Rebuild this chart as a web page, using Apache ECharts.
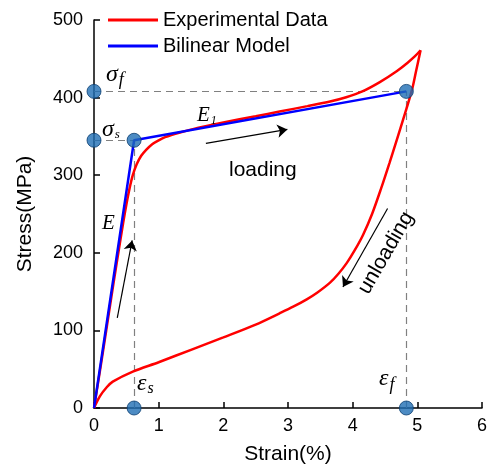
<!DOCTYPE html>
<html>
<head>
<meta charset="utf-8">
<script src="https://cdn.jsdelivr.net/npm/echarts@6/dist/echarts.min.js"></script>
<style>
  html, body { margin: 0; padding: 0; background: #fff; }
  #chart { width: 492px; height: 471px; }
</style>
</head>
<body>
<div id="chart"></div>
<script>
// experimental curve (strain %, stress MPa), loading branch
const loadingCurve = [
  [0, 0], [0.1, 52], [0.2, 106], [0.3, 160], [0.38, 202], [0.45, 238], [0.5, 262],
  [0.55, 283], [0.6, 300], [0.66, 314], [0.73, 325], [0.81, 333], [0.9, 340],
  [1.0, 345], [1.1, 349], [1.33, 355], [1.6, 361], [2.0, 368], [2.5, 376],
  [2.87, 382], [3.3, 389], [3.65, 395], [3.9, 400.5], [4.15, 408], [4.42, 420],
  [4.68, 434], [4.85, 445], [4.96, 453], [5.05, 461]
];
// unloading branch
const unloadingCurve = [
  [5.05, 461], [4.98, 434], [4.92, 411], [4.8, 377], [4.68, 345], [4.57, 316],
  [4.44, 283], [4.3, 250], [4.16, 223], [4.03, 203], [3.91, 187], [3.78, 173],
  [3.65, 161.5], [3.45, 148.5], [3.29, 140], [3.08, 130.5], [2.87, 122], [2.5, 107.5],
  [2.0, 91], [1.5, 75], [1.0, 59], [0.6, 47], [0.29, 34], [0.2, 27], [0.09, 15], [0, 0]
];
// bilinear model
const bilinearModel = [[0, 0], [0.62, 345], [4.83, 408]];
// key points
const keyPoints = [[0, 408], [0, 345], [0.62, 345], [4.83, 408], [0.62, 0], [4.83, 0]];
// dashed guide lines
const guideLines = [
  [[0, 408], [4.83, 408]],
  [[0, 345], [0.62, 345]],
  [[0.62, 0], [0.62, 345]],
  [[4.83, 0], [4.83, 408]]
];
// arrows
const arrows = [
  [[1.73, 341], [2.99, 359]],
  [[0.36, 116], [0.59, 216]],
  [[4.54, 257], [3.85, 156]]
];

var myChart = echarts.init(document.getElementById("chart"));

function symText(x, y, main, sub, size, subSize, drop) {
  return {
    type: "text",
    left: x,
    top: y,
    z: 100,
    style: {
      text: "{a|" + main + "}{b|" + sub + "}",
      rich: {
        a: { fontFamily: "Liberation Serif", fontStyle: "italic", fontSize: size, fill: "#000" },
        b: { fontFamily: "Liberation Serif", fontStyle: "italic", fontSize: subSize, fill: "#000", padding: [drop, 0, 0, 1] }
      }
    }
  };
}

myChart.setOption({
  animation: false,
  grid: { left: 94, right: 10, top: 20, bottom: 63 },
  legend: {
    left: 103,
    top: 5,
    orient: "vertical",
    itemWidth: 50,
    itemHeight: 3,
    itemGap: 6,
    icon: "rect",
    textStyle: { fontFamily: "Liberation Sans", fontSize: 20, color: "#000" },
    data: ["Experimental Data", "Bilinear Model"]
  },
  xAxis: {
    type: "value",
    min: 0,
    max: 6,
    interval: 1,
    name: "Strain(%)",
    nameLocation: "middle",
    nameGap: 36,
    nameTextStyle: { fontFamily: "Liberation Sans", fontSize: 21, color: "#000" },
    axisLine: { lineStyle: { color: "#000", width: 1.5 } },
    axisTick: { inside: true, length: 6, lineStyle: { color: "#000", width: 1.5 } },
    axisLabel: { fontFamily: "Liberation Sans", fontSize: 18, color: "#000", margin: 9 },
    splitLine: { show: false }
  },
  yAxis: {
    type: "value",
    min: 0,
    max: 500,
    interval: 100,
    name: "Stress(MPa)",
    nameLocation: "middle",
    nameGap: 58,
    nameRotate: 90,
    nameTextStyle: { fontFamily: "Liberation Sans", fontSize: 21, color: "#000" },
    axisLine: { show: true, lineStyle: { color: "#000", width: 1.5 } },
    axisTick: { show: true, inside: true, length: 6, lineStyle: { color: "#000", width: 1.5 } },
    axisLabel: { fontFamily: "Liberation Sans", fontSize: 18, color: "#000", margin: 11 },
    splitLine: { show: false }
  },
  series: [
    {
      name: "guides",
      type: "lines",
      coordinateSystem: "cartesian2d",
      z: 1,
      silent: true,
      lineStyle: { color: "#808080", width: 1.2, type: [7, 5], opacity: 1 },
      data: guideLines.map(function (c) { return { coords: c }; })
    },
    {
      name: "Experimental Data",
      type: "line",
      color: "#ff0000",
      showSymbol: false,
      smooth: 0.3,
      z: 3,
      lineStyle: { width: 2.5, color: "#ff0000" },
      data: loadingCurve
    },
    {
      name: "Experimental Data",
      type: "line",
      color: "#ff0000",
      showSymbol: false,
      smooth: 0.3,
      z: 3,
      lineStyle: { width: 2.5, color: "#ff0000" },
      data: unloadingCurve
    },
    {
      name: "Bilinear Model",
      type: "line",
      color: "#0000ff",
      showSymbol: false,
      z: 4,
      lineStyle: { width: 2.5, color: "#0000ff" },
      data: bilinearModel
    },
    {
      name: "arrows",
      type: "lines",
      coordinateSystem: "cartesian2d",
      z: 5,
      silent: true,
      symbol: ["none", "arrow"],
      symbolSize: 10,
      lineStyle: { color: "#000", width: 1.2, opacity: 1 },
      data: arrows.map(function (c) { return { coords: c }; })
    },
    {
      name: "points",
      type: "scatter",
      z: 10,
      clip: false,
      symbolSize: 14,
      itemStyle: { color: "#1f6eb4", borderColor: "#0d3f70", borderWidth: 1 },
      data: keyPoints
    }
  ],
  graphic: [
    symText(106, 63, "σ", "f", 24, 18, 10),
    symText(102, 118, "σ", "s", 24, 13, 10),
    symText(197, 105, "E", "1", 21, 12, 10),
    symText(102, 213, "E", "", 21, 12, 10),
    symText(137, 372, "ε", "s", 24, 16, 10),
    symText(379, 367, "ε", "f", 24, 18, 12),
    {
      type: "text",
      left: 229,
      top: 160,
      z: 100,
      style: { text: "loading", fontFamily: "Liberation Sans", fontSize: 21, fill: "#000" }
    },
    {
      type: "text",
      x: 386,
      y: 253,
      rotation: 60 * Math.PI / 180,
      z: 100,
      style: { text: "unloading", fontFamily: "Liberation Sans", fontSize: 21, fill: "#000", align: "center", verticalAlign: "middle" }
    }
  ]
});
</script>
</body>
</html>
